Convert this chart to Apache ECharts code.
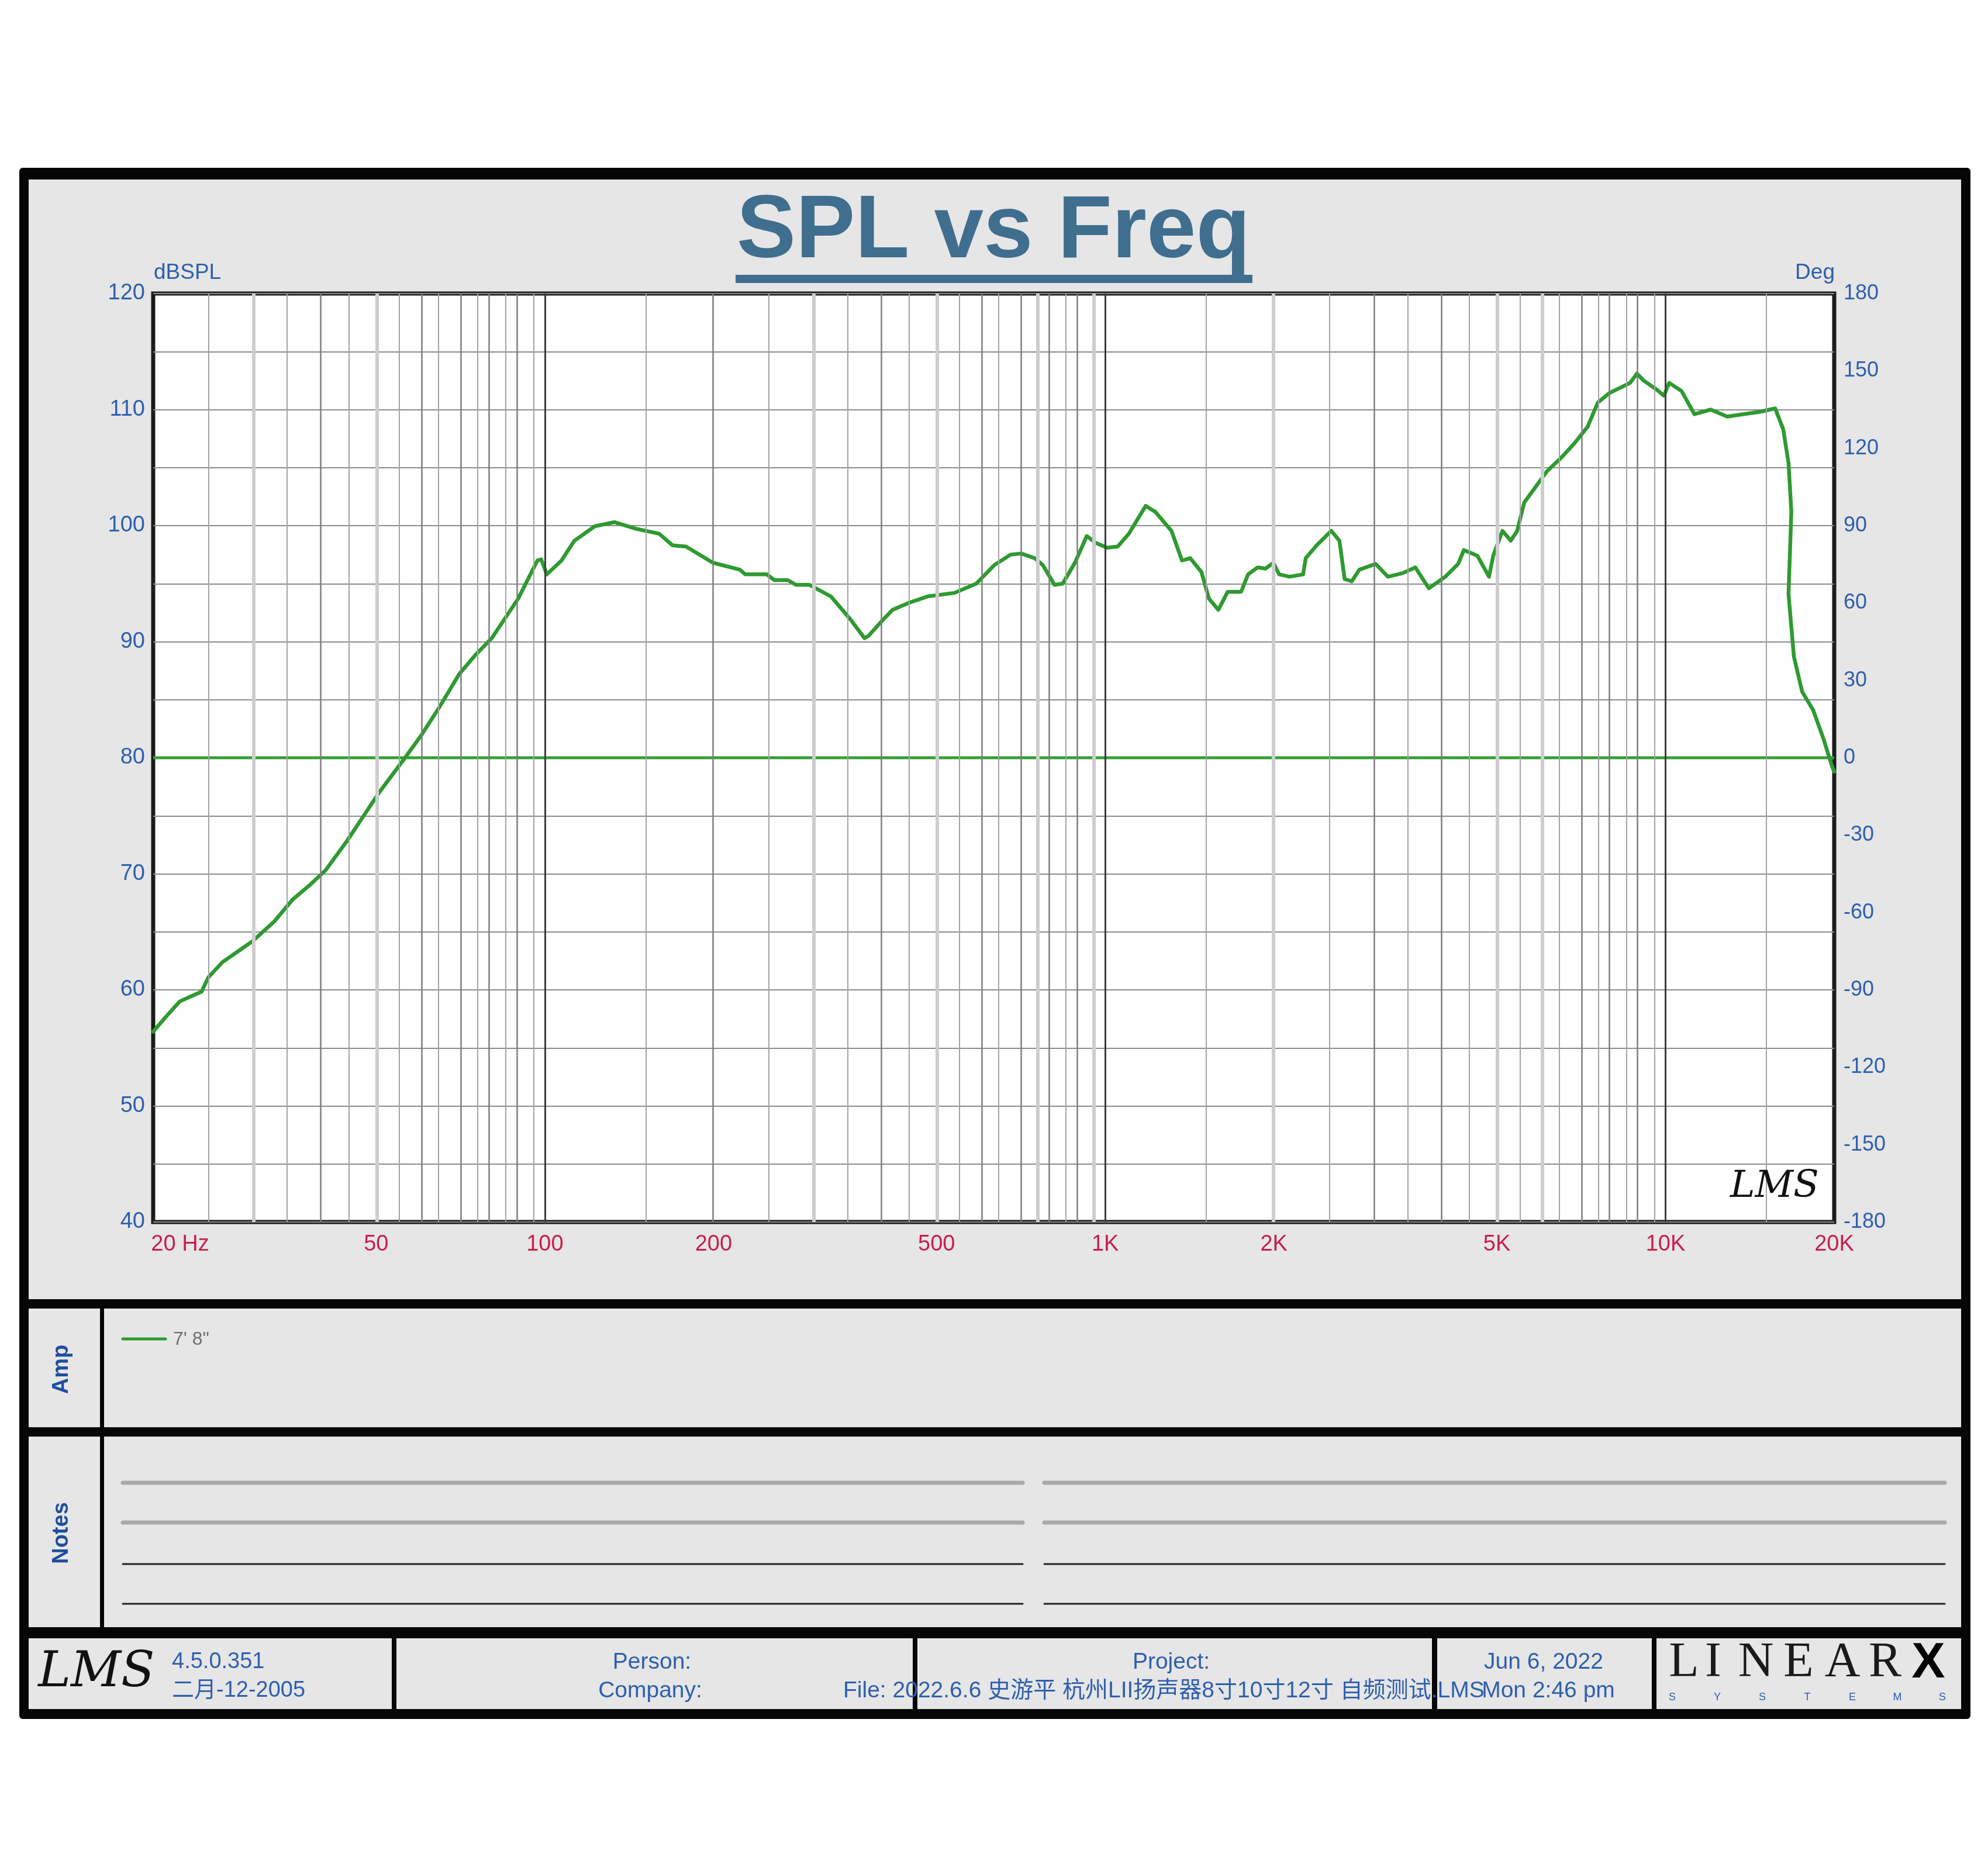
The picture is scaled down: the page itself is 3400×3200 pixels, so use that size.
<!DOCTYPE html>
<html>
<head>
<meta charset="utf-8">
<title>SPL vs Freq</title>
<script src="https://cdn.jsdelivr.net/npm/echarts@6.0.0/dist/echarts.min.js"></script>
<style>
html, body { margin: 0; padding: 0; background: #fff; }
#previewBox { width: 3400px; height: 3200px; }
</style>
</head>
<body>
<div id="previewBox"></div>
<script>
// SPL curve (Hz, dBSPL)
var freq = [20, 21, 22.3, 23.5, 24.4, 25.1, 26.6, 28.3, 30.1, 32.9, 35.5, 38, 40.6, 44.3, 47.5, 50.6,
    56.5, 60.3, 65.1, 70.3, 75, 80.4, 89.6, 97, 98.5, 100.8, 107.1, 112.9, 122.8, 133.2, 144.9, 160,
    169, 178.6, 199.5, 222.9, 227.8, 249, 257, 271.5, 280.6, 296.6, 324, 350, 371.9, 378, 399.7,
    417.4, 446.4, 482, 538, 588.6, 634, 677.9, 708, 748, 774, 812, 839.5, 883, 927, 963, 1008, 1053,
    1102, 1181, 1228, 1313, 1371, 1418, 1485, 1532, 1592, 1654, 1748, 1799, 1871, 1934, 1995, 2044,
    2134, 2255, 2280, 2384, 2532, 2618, 2675, 2754, 2841, 3039, 3195, 3393, 3577, 3781, 4045, 4265,
    4366, 4616, 4842, 4925, 5116, 5294, 5435, 5596, 5815, 6148, 6498, 6866, 7256, 7571, 7925, 8644,
    8892, 9140, 9656, 9934, 10152, 10680, 11260, 12038, 12886, 13745, 14707, 15693, 16220, 16575,
    16770, 16575, 16947, 17527, 18345, 19148, 19807, 20000];
var spl = [56.4, 57.6, 59.0, 59.5, 59.85, 61.1, 62.4, 63.3, 64.2, 65.9, 67.8, 69.0, 70.3, 72.8, 75.0, 77.0,
    80.1, 82.0, 84.5, 87.2, 88.8, 90.3, 93.7, 97.0, 97.1, 95.8, 97.0, 98.7, 99.95, 100.3, 99.75, 99.3,
    98.3, 98.2, 96.8, 96.2, 95.8, 95.8, 95.3, 95.3, 94.9, 94.9, 93.9, 92.0, 90.3, 90.5, 91.8,
    92.75, 93.35, 93.9, 94.2, 95.0, 96.6, 97.5, 97.6, 97.2, 96.6, 94.9, 95.0, 96.8, 99.1, 98.5, 98.1, 98.2,
    99.3, 101.7, 101.2, 99.55, 97.0, 97.2, 96.0, 93.7, 92.75, 94.3, 94.3, 95.8, 96.4, 96.3, 96.8, 95.8,
    95.6, 95.8, 97.2, 98.3, 99.55, 98.7, 95.4, 95.2, 96.2, 96.7, 95.6, 95.9, 96.4, 94.6, 95.6, 96.7,
    97.9, 97.4, 95.6, 97.4, 99.55, 98.7, 99.55, 102.0, 103.1, 104.7, 105.8, 107.05, 108.5, 110.6, 111.4, 112.3,
    113.1, 112.5, 111.7, 111.2, 112.3, 111.6, 109.6, 110.0, 109.4, 109.6, 109.8, 110.1, 108.3, 105.4,
    101.2, 94.1, 88.7, 85.7, 84.1, 81.6, 79.3, 78.8];

// phase trace, flat at 0 deg
var phaseFreq = [20, 20000];
var phaseDeg = [0, 0];

// x tick labels
var freqTicks = [20, 50, 100, 200, 500, 1000, 2000, 5000, 10000, 20000];
var freqTickNames = ['20 Hz', '50', '100', '200', '500', '1K', '2K', '5K', '10K', '20K'];

// vertical grid lines: step * decade
var gridDecades = [10, 100, 1000, 10000];
var gridSteps = [1, 1.5, 2, 2.5, 3, 3.5, 4, 4.5, 5, 5.5, 6, 6.5, 7, 7.5, 8, 8.5, 9, 9.5];
var gridDark = [100, 1000, 10000];
var gridLight = [30, 50, 300, 500, 750, 950, 2000, 5000, 6000];

var FONT = '"Liberation Sans", Arial, "Noto Sans CJK SC", sans-serif';
var BLUE = '#2f5fae';
var RED = '#c81e4e';
var PANEL = '#e6e6e6';

var myChart;
var option;

function lg(f) {
    return Math.log10(f);
}

function buildGridLines() {
    var lines = [];
    for (var d = 0; d < gridDecades.length; d++) {
        for (var s = 0; s < gridSteps.length; s++) {
            var f = gridDecades[d] * gridSteps[s];
            if (f <= 20 || f >= 20000) continue;
            var style;
            if (gridLight.indexOf(f) >= 0) style = { color: '#cdcdcd', width: 6, type: 'solid' };
            else if (gridDark.indexOf(f) >= 0) style = { color: '#3c3c3c', width: 3, type: 'solid' };
            else if (gridSteps[s] % 1 === 0) style = { color: '#7d7d7d', width: 2.5, type: 'solid' };
            else style = { color: '#a3a3a3', width: 2, type: 'solid' };
            lines.push({ xAxis: lg(f), lineStyle: style });
        }
    }
    return lines;
}

function txt(text, x, y, size, color, align, extra) {
    var el = {
        type: 'text', x: x, y: y, z: 100,
        style: {
            text: text, fill: color, font: (extra && extra.weight ? extra.weight + ' ' : '') + size + 'px ' + (extra && extra.family ? extra.family : FONT),
            textAlign: align || 'left', textVerticalAlign: 'middle'
        }
    };
    if (extra && extra.rotation) el.rotation = extra.rotation;
    return el;
}

function rect(x, y, w, h, fill, z) {
    return { type: 'rect', z: z === undefined ? -10 : z, shape: { x: x, y: y, width: w, height: h }, style: { fill: fill } };
}

function hline(x1, x2, y, color, width) {
    return { type: 'line', z: 50, shape: { x1: x1, y1: y, x2: x2, y2: y }, style: { stroke: color, lineWidth: width, lineCap: 'round' } };
}

function buildGraphics() {
    var g = [];
    // frame + panels
    g.push({ type: 'rect', z: -20, shape: { x: 33, y: 287, width: 3337, height: 2653, r: 6 }, style: { fill: '#060606' } });
    g.push(rect(49, 307, 3305, 1915, PANEL));
    g.push(rect(49, 2238, 122, 203, PANEL));
    g.push(rect(178, 2238, 3176, 203, PANEL));
    g.push(rect(49, 2457, 122, 326, PANEL));
    g.push(rect(178, 2457, 3176, 326, PANEL));
    var cells = [[49, 670], [678, 1561], [1569, 2449], [2458, 2825], [2833, 3354]];
    for (var i = 0; i < cells.length; i++) {
        g.push(rect(cells[i][0], 2802, cells[i][1] - cells[i][0], 121, PANEL));
    }

    // title
    g.push(txt('SPL vs Freq', 1699, 398, 152, '#3f6e8f', 'center', { weight: 'bold' }));
    g.push(rect(1258, 470, 884, 14, '#3f6e8f', 100));

    // axis units
    g.push(txt('dBSPL', 263, 467, 37, BLUE, 'left'));
    g.push(txt('Deg', 3138, 467, 37, BLUE, 'right'));

    // logo inside plot
    g.push(txt('LMS', 3035, 2030, 64, '#111', 'center', { weight: 'italic', family: '"DejaVu Serif", serif' }));

    // legend panel
    g.push(txt('Amp', 106, 2342, 38, '#1f4d9e', 'center', { weight: 'bold', rotation: Math.PI / 2 }));
    g.push(hline(210, 283, 2290, '#2f9a31', 5));
    g.push(txt('7\' 8"', 296, 2291, 32, '#707070', 'left'));

    // notes panel
    g.push(txt('Notes', 106, 2622, 38, '#1f4d9e', 'center', { weight: 'bold', rotation: Math.PI / 2 }));
    var noteRows = [[2536, '#a9a9a9', 7], [2604, '#a9a9a9', 7], [2675, '#222', 3], [2743, '#222', 3]];
    for (var r = 0; r < noteRows.length; r++) {
        g.push(hline(210, 1749, noteRows[r][0], noteRows[r][1], noteRows[r][2]));
        g.push(hline(1786, 3326, noteRows[r][0], noteRows[r][1], noteRows[r][2]));
    }

    // footer
    g.push(txt('LMS', 165, 2862, 84, '#111', 'center', { weight: 'italic', family: '"DejaVu Serif", serif' }));
    g.push(txt('4.5.0.351', 294, 2843, 38, BLUE, 'left'));
    g.push(txt('二月-12-2005', 294, 2892, 38, BLUE, 'left'));
    g.push(txt('Person:', 1115, 2843, 39, BLUE, 'center'));
    g.push(txt('Company:', 1112, 2892, 39, BLUE, 'center'));
    g.push(txt('Project:', 2003, 2843, 39, BLUE, 'center'));
    g.push(txt('Jun 6, 2022', 2640, 2843, 39, BLUE, 'center'));
    g.push(txt('Mon 2:46 pm', 2648, 2892, 39, BLUE, 'center'));
    g.push(txt('File: 2022.6.6 史游平 杭州LII扬声器8寸10寸12寸 自频测试.LMS', 1442, 2892, 39, BLUE, 'left'));

    // LINEARX logo
    var logo = ['L', 'I', 'N', 'E', 'A', 'R'];
    var logoX = [2880, 2930, 3003, 3076, 3151, 3224];
    for (var k = 0; k < logo.length; k++) {
        g.push(txt(logo[k], logoX[k], 2845, 84, '#1a1a1a', 'center', { family: '"Liberation Serif", serif' }));
    }
    g.push(txt('X', 3298, 2845, 86, '#000', 'center', { weight: 'bold' }));
    var sys = ['S', 'Y', 'S', 'T', 'E', 'M', 'S'];
    for (var m = 0; m < sys.length; m++) {
        g.push(txt(sys[m], 2860 + m * 77, 2903, 18, BLUE, 'center'));
    }
    return g;
}

function initPreview() {
    var chartDom = document.getElementById('previewBox');
    myChart = echarts.init(chartDom);

    var splData = freq.map(function (f, i) { return [lg(f), spl[i]]; });
    var phaseData = phaseFreq.map(function (f, i) { return [lg(f), phaseDeg[i]]; });

    option = {
        backgroundColor: '#ffffff',
        animation: false,
        grid: {
            left: 262, right: 263, top: 502, bottom: 1110,
            show: true, backgroundColor: '#ffffff',
            borderColor: '#1c1c1c', borderWidth: 7,
            outerBoundsMode: 'none'
        },
        xAxis: {
            type: 'value',
            min: lg(20), max: lg(20000),
            axisLine: { show: false },
            axisTick: { show: false },
            splitLine: { show: false },
            axisLabel: {
                customValues: freqTicks.map(lg),
                margin: 20,
                color: RED,
                fontSize: 38,
                fontFamily: FONT,
                formatter: function (v) {
                    var f = Math.round(Math.pow(10, v));
                    var idx = freqTicks.indexOf(f);
                    if (idx < 0) return '';
                    if (idx === 0) return '{hz|' + freqTickNames[0] + '}';
                    return freqTickNames[idx];
                },
                rich: {
                    hz: { color: RED, fontSize: 38, fontFamily: FONT, padding: [0, 0, 0, 92] }
                }
            }
        },
        yAxis: [{
            type: 'value',
            min: 40, max: 120, interval: 5,
            axisLine: { show: false },
            axisTick: { show: false },
            splitLine: { show: true, lineStyle: { color: '#8c8c8c', width: 2 } },
            axisLabel: {
                margin: 14, color: BLUE, fontSize: 38, fontFamily: FONT,
                formatter: function (v) { return v % 10 === 0 ? String(v) : ''; }
            }
        }, {
            type: 'value',
            position: 'right',
            min: -180, max: 180, interval: 30,
            axisLine: { show: false },
            axisTick: { show: false },
            splitLine: { show: false },
            axisLabel: { margin: 16, color: BLUE, fontSize: 36, fontFamily: FONT }
        }],
        series: [{
            name: 'grid',
            type: 'line',
            yAxisIndex: 1,
            z: 1,
            silent: true,
            symbol: 'none',
            data: phaseData,
            lineStyle: { opacity: 0 },
            markLine: {
                silent: true,
                symbol: 'none',
                label: { show: false },
                animation: false,
                data: buildGridLines()
            }
        }, {
            name: 'phase',
            type: 'line',
            yAxisIndex: 1,
            z: 3,
            symbol: 'none',
            data: phaseData,
            lineStyle: { color: '#35a036', width: 5 }
        }, {
            name: '7\' 8"',
            type: 'line',
            z: 4,
            symbol: 'none',
            data: splData,
            lineStyle: { color: '#2f9a31', width: 6.5, cap: 'round', join: 'round' }
        }],
        graphic: { elements: buildGraphics() }
    };

    myChart.setOption(option);
    window.addEventListener('resize', myChart.resize);
}

initPreview();
</script>
</body>
</html>
